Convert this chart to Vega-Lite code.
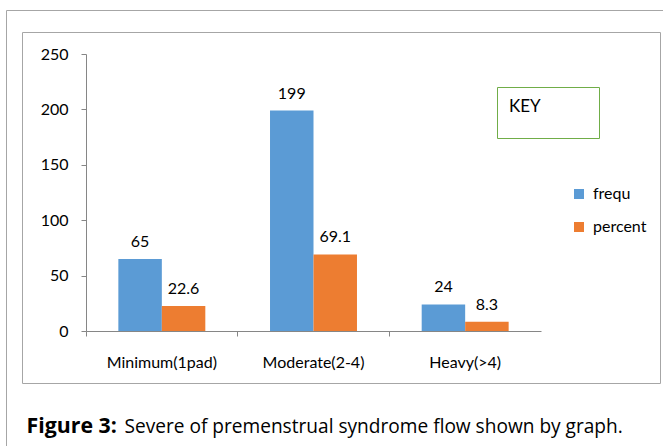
{
  "$schema": "https://vega.github.io/schema/vega-lite/v6.json",
  "width": 638,
  "height": 351,
  "autosize": {"type": "none"},
  "padding": {"left": 22, "top": 32, "right": 3, "bottom": 63},
  "background": "white",
  "config": {"view": {"stroke": "#a6a6a6", "strokeWidth": 1}, "font": "Lato"},
  "data": {
    "values": [
      {"cat": "Minimum(1pad)", "series": "frequ", "value": 65, "label": "65"},
      {"cat": "Minimum(1pad)", "series": "percent", "value": 22.6, "label": "22.6"},
      {"cat": "Moderate(2-4)", "series": "frequ", "value": 199, "label": "199"},
      {"cat": "Moderate(2-4)", "series": "percent", "value": 69.1, "label": "69.1"},
      {"cat": "Heavy(>4)", "series": "frequ", "value": 24, "label": "24"},
      {"cat": "Heavy(>4)", "series": "percent", "value": 8.3, "label": "8.3"}
    ]
  },
  "layer": [
    {
      "encoding": {
        "x": {
          "field": "cat",
          "type": "nominal",
          "sort": ["Minimum(1pad)", "Moderate(2-4)", "Heavy(>4)"],
          "scale": {"range": [64, 519], "paddingInner": 0, "paddingOuter": 0},
          "axis": {
            "orient": "bottom",
            "title": "Severe of premenstrual syndrome flow shown by graph.",
            "offset": -52,
            "bandPosition": 0,
            "labelAngle": 0,
            "domainColor": "#868686",
            "tickColor": "#868686",
            "tickSize": 5,
            "labelFontSize": 16,
            "labelFont": "Lato",
            "labelColor": "#000000",
            "labelPadding": 18,
            "titleX": 102,
            "titleY": 101,
            "titleAlign": "left",
            "titleAnchor": null,
            "titleBaseline": "alphabetic",
            "titleFontSize": 19.1,
            "titleFont": "Open Sans",
            "titleFontWeight": "normal",
            "titleColor": "#000000"
          }
        },
        "xOffset": {
          "field": "series",
          "type": "nominal",
          "sort": ["frequ", "percent"],
          "scale": {"paddingOuter": 0.744, "paddingInner": 0}
        },
        "y": {
          "field": "value",
          "type": "quantitative",
          "scale": {"domain": [0, 250], "range": [299, 22], "nice": false},
          "axis": {
            "orient": "left",
            "title": "Figure 3:",
            "offset": -64,
            "values": [0, 50, 100, 150, 200, 250],
            "grid": false,
            "domainColor": "#868686",
            "tickColor": "#868686",
            "tickSize": 5,
            "labelFontSize": 16,
            "labelFont": "Lato",
            "labelColor": "#000000",
            "labelPadding": 13,
            "titleAngle": 0,
            "titleX": -60,
            "titleY": 400,
            "titleAlign": "left",
            "titleAnchor": null,
            "titleBaseline": "alphabetic",
            "titleFontSize": 21.3,
            "titleFont": "Open Sans",
            "titleFontWeight": "bold",
            "titleColor": "#000000"
          }
        }
      },
      "layer": [
        {
          "mark": {"type": "bar"},
          "encoding": {
            "color": {
              "field": "series",
              "type": "nominal",
              "scale": {"domain": ["frequ", "percent"], "range": ["#5B9BD5", "#ED7D31"]},
              "legend": {
                "title": null,
                "orient": "none",
                "legendX": 549,
                "legendY": 154,
                "symbolType": "square",
                "symbolSize": 100,
                "symbolStrokeWidth": 0,
                "labelOffset": 6,
                "labelFontSize": 16,
                "labelFont": "Lato",
                "labelColor": "#000000",
                "rowPadding": 17
              }
            },
            "strokeDash": {
              "datum": "key",
              "legend": {
                "title": "KEY",
                "orient": "none",
                "legendX": 475,
                "legendY": 55,
                "strokeColor": "#70AD47",
                "padding": 12,
                "titleFontSize": 17,
                "titleFont": "Lato",
                "titleFontWeight": "normal",
                "titleColor": "#000000",
                "titlePadding": 2,
                "symbolSize": 0,
                "symbolOpacity": 0,
                "symbolStrokeWidth": 0,
                "labelOffset": 0,
                "labelExpr": "'000000000000000'",
                "labelFontSize": 8,
                "labelFont": "Lato",
                "labelOpacity": 0
              }
            }
          }
        },
        {
          "mark": {"type": "text", "dy": -17, "baseline": "middle", "fontSize": 16, "font": "Lato", "color": "#000000"},
          "encoding": {"text": {"field": "label", "type": "nominal"}}
        }
      ]
    },
    {
      "mark": {"type": "point", "opacity": 0},
      "encoding": {
        "x": {
          "field": "value",
          "type": "quantitative",
          "scale": {"range": [-16, 660]},
          "axis": {"orient": "top", "offset": 22, "ticks": false, "labels": false, "grid": false, "title": null, "domainColor": "#a6a6a6"}
        },
        "y": {
          "field": "value",
          "type": "quantitative",
          "scale": {"range": [420, -22]},
          "axis": {"orient": "left", "offset": 16, "ticks": false, "labels": false, "grid": false, "title": null, "domainColor": "#a6a6a6"}
        }
      }
    }
  ],
  "resolve": {
    "scale": {"x": "independent", "y": "independent"},
    "axis": {"x": "independent", "y": "independent"}
  }
}
